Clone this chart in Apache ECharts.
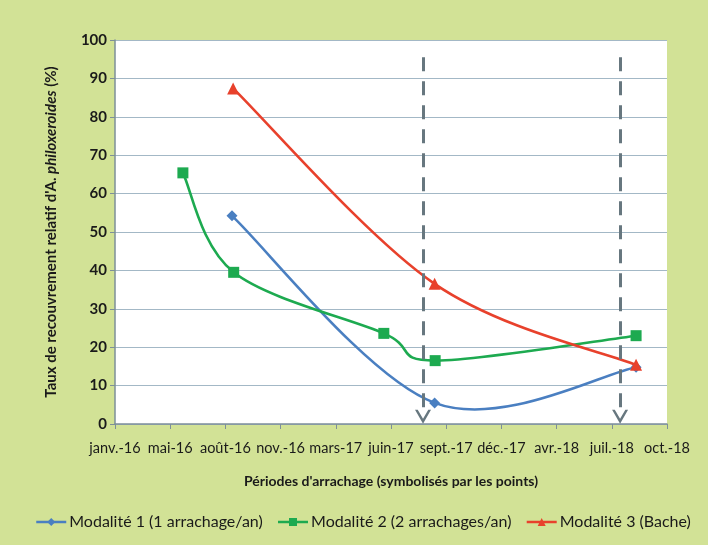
<!DOCTYPE html>
<html>
<head>
<meta charset="utf-8">
<script src="https://cdn.jsdelivr.net/npm/echarts@6/dist/echarts.min.js"></script>
<style>html,body{margin:0;padding:0;background:#d2e296;}#c{width:708px;height:545px;}</style>
</head>
<body>
<div id="c"></div>
<script>
// Axis origin date (first tick) and tick labels every 100 days
var axisStart = '2016-01-28';
var xTickLabels = ['janv.-16','mai-16','août-16','nov.-16','mars-17','juin-17','sept.-17','déc.-17','avr.-18','juil.-18','oct.-18'];

var names = ['Modalité 1 (1 arrachage/an)', 'Modalité 2 (2 arrachages/an)', 'Modalité 3 (Bache)'];
var colors = ['#4a7fc1', '#1daa50', '#e8412c'];

var dates1 = ['2016-08-27', '2017-08-29', '2018-08-29'];
var values1 = [54.2, 5.5, 14.8];

var dates2 = ['2016-05-30', '2016-08-30', '2017-05-29', '2017-08-30', '2018-08-29'];
var values2 = [65.4, 39.5, 23.6, 16.5, 23.0];

var dates3 = ['2016-08-29', '2017-08-29', '2018-08-29'];
var values3 = [87.4, 36.5, 15.4];

// Vertical dashed markers (arrachage reference periods)
var markerDates = ['2017-08-08', '2018-07-31'];

function days(s) {
  var a = axisStart.split('-'), b = s.split('-');
  return (Date.UTC(+b[0], +b[1] - 1, +b[2]) - Date.UTC(+a[0], +a[1] - 1, +a[2])) / 86400000;
}
function pts(ds, vs) { return ds.map(function (d, i) { return [days(d), vs[i]]; }); }

var series1 = pts(dates1, values1);
var series2 = pts(dates2, values2);
var series3 = pts(dates3, values3);

// Excel-style smoothed curve: each datum draws its outgoing Bezier segment
function smoothRender(points, color) {
  return function (params, api) {
    var i = params.dataIndex, n = points.length;
    if (i >= n - 1) return null;
    var P = points.map(function (p) { return api.coord(p); });
    var p0 = P[Math.max(i - 1, 0)], p1 = P[i], p2 = P[i + 1], p3 = P[Math.min(i + 2, n - 1)];
    return {
      type: 'bezierCurve',
      shape: {
        x1: p1[0], y1: p1[1], x2: p2[0], y2: p2[1],
        cpx1: p1[0] + (p2[0] - p0[0]) / 6, cpy1: p1[1] + (p2[1] - p0[1]) / 6,
        cpx2: p2[0] - (p3[0] - p1[0]) / 6, cpy2: p2[1] - (p3[1] - p1[1]) / 6
      },
      style: { fill: 'none', stroke: color, lineWidth: 2.6, lineCap: 'round' },
      silent: true
    };
  };
}

var chevron = 'path://M0,10 L5,0 L10,10 L8.3,10 L5,3.6 L1.7,10 Z';

var chart = echarts.init(document.getElementById('c'));
var font = 'Lato, "Open Sans", sans-serif';
var allPts = [series1, series2, series3];
var symbols = ['diamond', 'rect', 'triangle'];
var symbolSizes = [11, 11, 12];

var seriesList = [];
allPts.forEach(function (p, k) {
  seriesList.push({
    type: 'custom', coordinateSystem: 'cartesian2d', data: p,
    renderItem: smoothRender(p, colors[k]), z: 2 + k, silent: true
  });
});
allPts.forEach(function (p, k) {
  var s = {
    name: names[k], type: 'line', data: p,
    symbol: symbols[k], symbolSize: symbolSizes[k],
    lineStyle: { color: colors[k], width: 2.5, opacity: 0 },
    itemStyle: { color: colors[k] },
    emphasis: { disabled: true },
    z: 10 + k
  };
  if (k === 0) {
    s.markLine = {
      silent: true, animation: false,
      symbol: ['none', chevron], symbolSize: [16, 14],
      label: { show: false },
      lineStyle: { color: '#67777f', width: 3, type: [14, 10], opacity: 1 },
      emphasis: { disabled: true },
      data: markerDates.map(function (d) {
        return [{ coord: [days(d), 95.5] }, { coord: [days(d), 1.9] }];
      })
    };
  }
  seriesList.push(s);
});

chart.setOption({
  backgroundColor: '#d2e296',
  animation: false,
  textStyle: { fontFamily: font },
  grid: { left: 115, right: 41, top: 40, bottom: 121, show: true, backgroundColor: '#ffffff', borderWidth: 0 },
  legend: {
    bottom: 10, left: 30, itemWidth: 30, itemHeight: 10, itemGap: 14,
    textStyle: { fontFamily: font, fontSize: 16, color: '#1a1a1a', padding: [0, 0, 0, -2] },
    data: names.map(function (n, k) {
      return { name: n, lineStyle: { color: colors[k], width: 2.5, opacity: 1 } };
    })
  },
  xAxis: {
    type: 'value', min: 0, max: 1000, interval: 100,
    name: "Périodes d'arrachage (symbolisés par les points)",
    nameLocation: 'middle', nameGap: 50,
    nameTextStyle: { fontFamily: font, fontSize: 14, fontWeight: 'bold', color: '#1a1a1a' },
    axisLine: { lineStyle: { color: '#7d8f99', width: 1.5 } },
    axisTick: { show: true, length: 5, lineStyle: { color: '#7d8f99' } },
    axisLabel: { fontSize: 14.5, color: '#1a1a1a', margin: 17,
      formatter: function (v) { return xTickLabels[Math.round(v / 100)]; } },
    splitLine: { show: false }
  },
  yAxis: {
    type: 'value', min: 0, max: 100, interval: 10,
    name: "{b|Taux de recouvrement relatif d'A. }{i|philoxeroides}{b| (%)}",
    nameLocation: 'middle', nameGap: 56, nameRotate: 90,
    nameTextStyle: { fontFamily: font, fontSize: 15, color: '#1a1a1a',
      rich: {
        b: { fontFamily: font, fontSize: 15, fontWeight: 'bold', color: '#1a1a1a' },
        i: { fontFamily: font, fontSize: 15, fontWeight: 'bold', fontStyle: 'italic', color: '#1a1a1a' }
      } },
    axisLine: { show: true, lineStyle: { color: '#7d8f99', width: 1.5 } },
    axisTick: { show: true, length: 5, lineStyle: { color: '#7d8f99' } },
    axisLabel: { fontSize: 15, fontWeight: 'bold', color: '#1a1a1a', margin: 8 },
    splitLine: { lineStyle: { color: '#a3b8c6', width: 1.2 } }
  },
  series: seriesList
});
</script>
</body>
</html>
